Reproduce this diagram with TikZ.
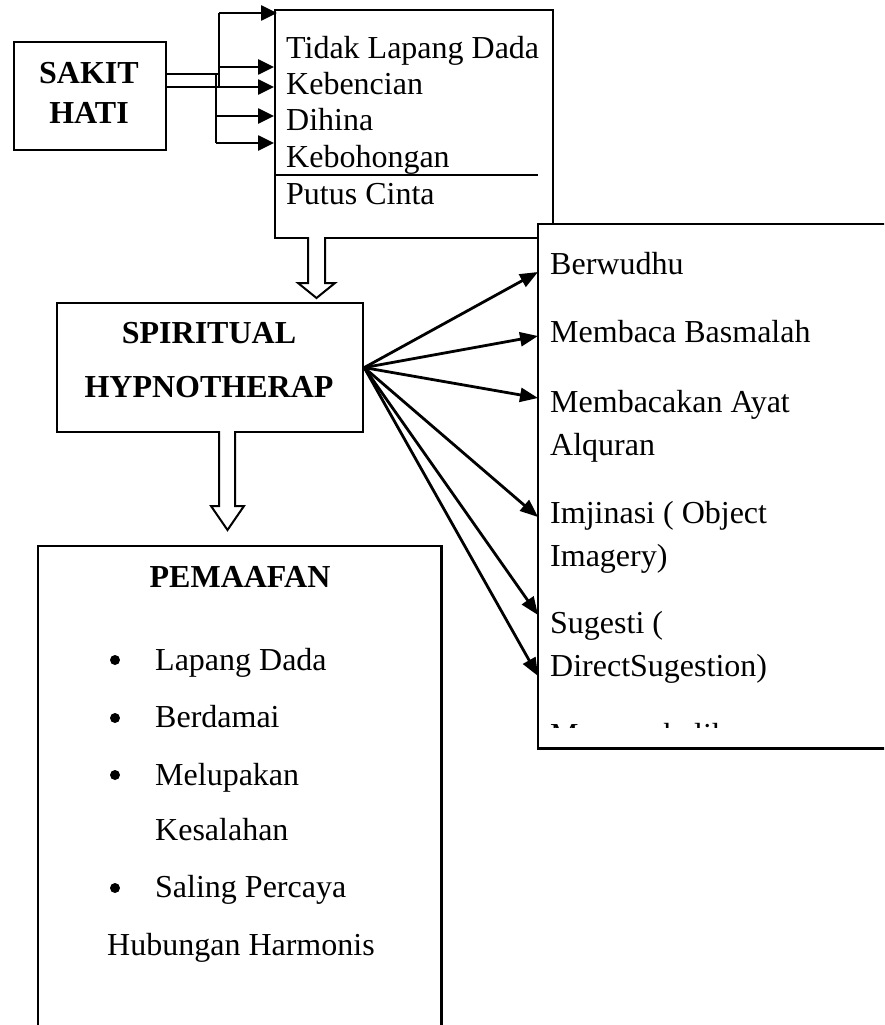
\documentclass[tikz,border=0pt]{standalone}
\usepackage{fontspec}
\setmainfont{Liberation Serif}
\usetikzlibrary{arrows.meta}
\begin{document}
\begin{tikzpicture}[x=1pt,y=-1pt,
  box/.style={draw, line width=2.2pt, rectangle, inner sep=0pt, anchor=north west},
  txt/.style={anchor=base west, inner sep=0pt, font=\fontsize{32}{36}\selectfont},
  btxt/.style={anchor=base, inner sep=0pt, font=\fontsize{32}{36}\selectfont\bfseries},
  arr/.style={line width=2.6pt, -{Triangle[length=16pt,width=15pt]}},
  fan/.style={line width=2.8pt, -{Triangle[length=18pt,width=14pt]}},
  plain/.style={line width=2.6pt},
  hollow/.style={draw, line width=2pt, fill=white, line join=miter},
  dotb/.style={circle, fill, inner sep=0pt, minimum size=10pt}]
\useasboundingbox (0,0) rectangle (884,1025);
\clip (0,0) rectangle (884,1025);

% SAKIT HATI
\node[box, minimum width=152pt, minimum height=108pt] (sakit) at (13,41) {};
\node[btxt] (s1) at (89,84) {SAKIT};
\node[btxt] (s2) at (89,123) {HATI};

% top box
\node[box, minimum width=278pt, minimum height=228pt] (top) at (274,9) {};
\node[txt] (c1) at (286,59) {Tidak Lapang Dada};
\node[txt] (c2) at (286,94) {Kebencian};
\node[txt] (c3) at (286,130) {Dihina};
\node[txt] (c4) at (286,167) {Kebohongan};
\coordinate (sepR) at (538,175);
\draw[line width=2.2pt] (top.west |- sepR) -- (sepR);
\node[txt] (c5) at (286,204) {Putus Cinta};

% connectors SAKIT HATI -> top box
\coordinate (k0) at (219,74);
\coordinate (k1) at (219,13);
\coordinate (k2) at (219,67);
\coordinate (k3) at (219,87);
\coordinate (k4) at (216,116);
\coordinate (k5) at (216,143);
\coordinate (e1) at (277,13);
\draw[plain] (sakit.east |- k0) -- (k0);
\draw[plain] (k1) -- (k3);
\draw[plain] (216,74) -- (k5);
\draw[arr] (k1) -- (e1);
\draw[arr] (k2) -- (top.west |- k2);
\draw[arr] (sakit.east |- k3) -- (top.west |- k3);
\draw[arr] (k4) -- (top.west |- k4);
\draw[arr] (k5) -- (top.west |- k5);

% SPIRITUAL HYPNOTHERAP
\node[box, minimum width=306pt, minimum height=129pt] (sp) at (56,302) {};
\node[btxt] (p1) at (209,343) {SPIRITUAL};
\node[btxt] (p2) at (209,397) {HYPNOTHERAP};

% hollow arrows
\draw[hollow] (308,237) -- (308,283) -- (298,283) -- (316.5,298) -- (335,283) -- (325,283) -- (325,237);
\draw[hollow] (219,431) -- (219,506) -- (211,506) -- (227.5,530) -- (244,506) -- (235,506) -- (235,431);

% right box
\node[fill=white, inner sep=0pt, anchor=north west, minimum width=352pt, minimum height=524pt] (rb) at (538,224) {};
\draw[line width=2.2pt] (rb.north east) -- (rb.north west) -- (rb.south west) -- (rb.south east);
\node[txt] (r1) at (550,274) {Berwudhu};
\node[txt] (r2) at (550,342) {Membaca Basmalah};
\node[txt] (r3) at (550,412) {Membacakan Ayat};
\node[txt] (r3b) at (550,455) {Alquran};
\node[txt] (r4) at (550,523) {Imjinasi ( Object};
\node[txt] (r4b) at (550,566) {Imagery)};
\node[txt] (r5) at (550,633) {Sugesti (};
\node[txt] (r5b) at (550,676) {DirectSugestion)};
\begin{scope}
\clip (540,700) rectangle (884,727);
\node[txt] (r6) at (550,745) {Mengembalikan};
\end{scope}

% fan arrows
\coordinate (a1) at (538,272);
\coordinate (a2) at (538,336);
\coordinate (a3) at (538,398);
\coordinate (a4) at (538,517);
\coordinate (a5) at (538,615);
\coordinate (a6) at (538,676);
\foreach \t in {a1,a2,a3,a4,a5,a6}{\draw[fan] (sp.east) -- (\t);}

% PEMAAFAN
\node[anchor=north west, inner sep=0pt, minimum width=403pt, minimum height=490pt] (pm) at (38,546) {};
\draw[line width=2.2pt] (pm.south west) -- (pm.north west) -- (pm.north east) -- (pm.south east);
\node[btxt] (m0) at (240,587) {PEMAAFAN};
\node[dotb] (d1) at (115,660) {};
\node[dotb] (d2) at (115,718) {};
\node[dotb] (d3) at (115,775) {};
\node[dotb] (d4) at (115,888) {};
\node[txt] (m1) at (155,670) {Lapang Dada};
\node[txt] (m2) at (155,727) {Berdamai};
\node[txt] (m3) at (155,785) {Melupakan};
\node[txt] (m3b) at (155,840) {Kesalahan};
\node[txt] (m4) at (155,897) {Saling Percaya};
\node[txt] (m5) at (107,955) {Hubungan Harmonis};
\end{tikzpicture}
\end{document}
